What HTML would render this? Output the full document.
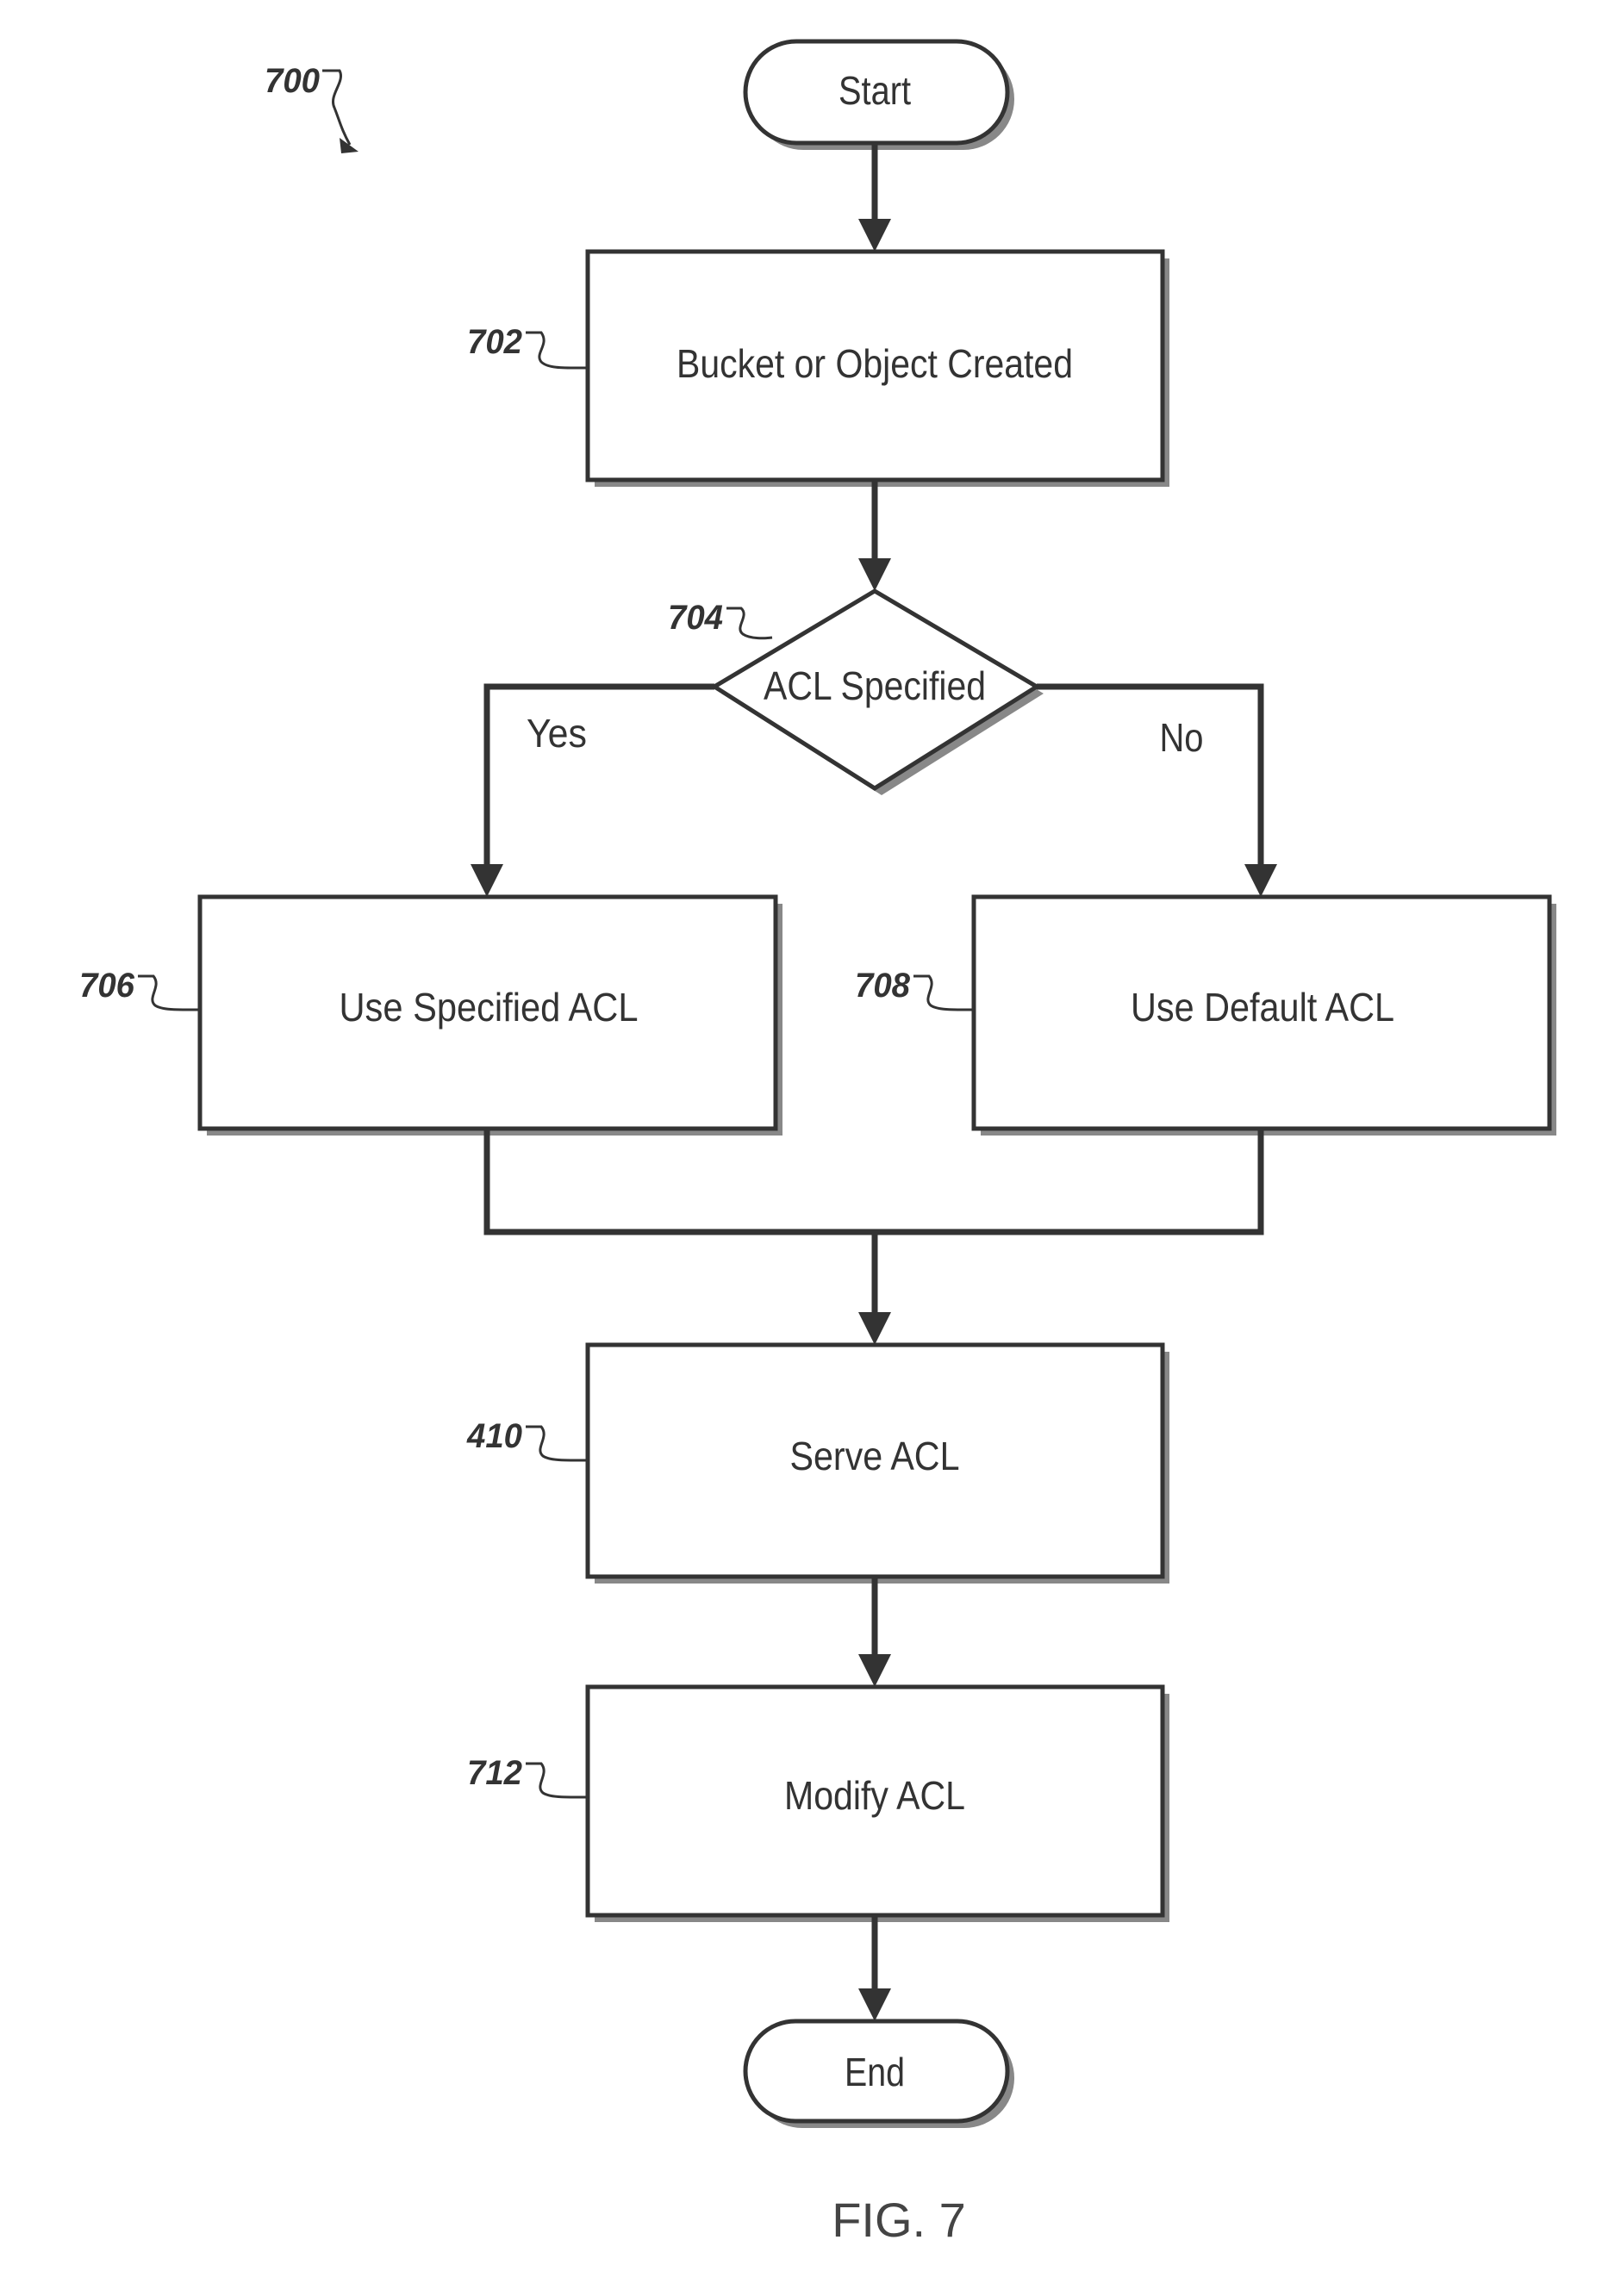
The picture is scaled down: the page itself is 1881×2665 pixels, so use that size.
<!DOCTYPE html>
<html><head><meta charset="utf-8"><style>html,body{margin:0;padding:0;background:#fff}svg{display:block}</style></head>
<body>
<svg width="1881" height="2665" viewBox="0 0 1881 2665" xmlns="http://www.w3.org/2000/svg" font-family="Liberation Sans, sans-serif">
<g transform="translate(-4,0)">
<g fill="#888">
<rect x="877" y="56" width="304" height="118" rx="59"/>
<rect x="694" y="300" width="667" height="265"/>
<polygon points="1027,694 1215,805 1027,923 841,805"/>
<rect x="244" y="1049" width="668" height="269"/>
<rect x="1142" y="1049" width="668" height="269"/>
<rect x="694" y="1569" width="667" height="269"/>
<rect x="694" y="1966" width="667" height="265"/>
<rect x="877" y="2354" width="304" height="116" rx="58"/>
</g>
<g fill="#fff" stroke="#333" stroke-width="5">
<rect x="869" y="48" width="304" height="118" rx="59"/>
<rect x="686" y="292" width="667" height="265"/>
<polygon points="1019,686 1207,797 1019,915 833,797"/>
<rect x="236" y="1041" width="668" height="269"/>
<rect x="1134" y="1041" width="668" height="269"/>
<rect x="686" y="1561" width="667" height="269"/>
<rect x="686" y="1958" width="667" height="265"/>
<rect x="869" y="2346" width="304" height="116" rx="58"/>
</g>
<g fill="none" stroke="#333" stroke-width="7">
<path d="M1019 166 V262"/>
<path d="M1019 557 V656"/>
<path d="M833 797 H569 V1005"/>
<path d="M1207 797 H1467 V1005"/>
<path d="M569 1310 V1430 H1467 V1310"/>
<path d="M1019 1430 V1525"/>
<path d="M1019 1830 V1922"/>
<path d="M1019 2223 V2310"/>
</g>
<g fill="#333">
<polygon points="1000,254 1038,254 1019,292"/>
<polygon points="1000,648 1038,648 1019,686"/>
<polygon points="550,1003 588,1003 569,1041"/>
<polygon points="1448,1003 1486,1003 1467,1041"/>
<polygon points="1000,1523 1038,1523 1019,1561"/>
<polygon points="1000,1920 1038,1920 1019,1958"/>
<polygon points="1000,2308 1038,2308 1019,2346"/>
</g>
<g fill="#333" font-size="46" text-anchor="middle" lengthAdjust="spacingAndGlyphs">
<text x="1019" y="121" textLength="84" lengthAdjust="spacingAndGlyphs">Start</text>
<text x="1019" y="438" textLength="460" lengthAdjust="spacingAndGlyphs">Bucket or Object Created</text>
<text x="1019" y="812" textLength="258" lengthAdjust="spacingAndGlyphs">ACL Specified</text>
<text x="650" y="867" textLength="70" lengthAdjust="spacingAndGlyphs">Yes</text>
<text x="1375" y="872" textLength="51" lengthAdjust="spacingAndGlyphs">No</text>
<text x="571" y="1185" textLength="347" lengthAdjust="spacingAndGlyphs">Use Specified ACL</text>
<text x="1469" y="1185" textLength="306" lengthAdjust="spacingAndGlyphs">Use Default ACL</text>
<text x="1019" y="1706" textLength="197" lengthAdjust="spacingAndGlyphs">Serve ACL</text>
<text x="1019" y="2100" textLength="210" lengthAdjust="spacingAndGlyphs">Modify ACL</text>
<text x="1019" y="2421" textLength="70" lengthAdjust="spacingAndGlyphs">End</text>
</g>
<text x="1047" y="2596" font-size="56" fill="#444" text-anchor="middle">FIG. 7</text>
<g fill="#333" font-size="40" font-style="italic" font-weight="bold" text-anchor="end">
<text x="375" y="107" textLength="64" lengthAdjust="spacingAndGlyphs">700</text>
<text x="610" y="410" textLength="64" lengthAdjust="spacingAndGlyphs">702</text>
<text x="843" y="730" textLength="64" lengthAdjust="spacingAndGlyphs">704</text>
<text x="160" y="1157" textLength="64" lengthAdjust="spacingAndGlyphs">706</text>
<text x="1060" y="1157" textLength="64" lengthAdjust="spacingAndGlyphs">708</text>
<text x="610" y="1680" textLength="64" lengthAdjust="spacingAndGlyphs">410</text>
<text x="610" y="2071" textLength="64" lengthAdjust="spacingAndGlyphs">712</text>
</g>
<g fill="none" stroke="#333" stroke-width="3">
<path d="M378 82 H398 C405 95 385 110 392 125 C398 140 400 150 410 168"/>
<path d="M614 386 H632 C642 400 624 410 632 420 C640 428 660 427 686 427"/>
<path d="M847 706 H864 C874 715 856 728 866 736 C875 742 892 741 900 740"/>
<path d="M164 1133 H182 C192 1145 174 1158 184 1167 C193 1173 215 1172 236 1172"/>
<path d="M1064 1133 H1082 C1092 1145 1074 1158 1084 1167 C1093 1173 1115 1172 1134 1172"/>
<path d="M614 1656 H632 C642 1668 624 1681 634 1690 C643 1696 665 1695 686 1695"/>
<path d="M614 2047 H632 C642 2059 624 2072 634 2081 C643 2087 665 2086 686 2086"/>
</g>
<polygon points="398,160 420,176 400,178" fill="#333"/>
</g>
</svg>
</body></html>
